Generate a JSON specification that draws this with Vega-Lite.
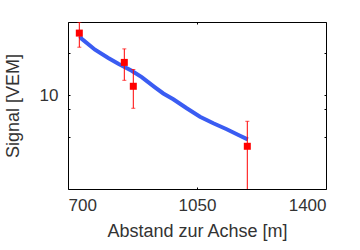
{
  "$schema": "https://vega.github.io/schema/vega-lite/v6.json",
  "width": 258,
  "height": 167,
  "autosize": "none",
  "padding": {"left": 68, "top": 22, "right": 34, "bottom": 61},
  "background": "white",
  "config": {
    "view": {"stroke": "black", "strokeWidth": 1},
    "axis": {
      "domain": false,
      "grid": false,
      "tickColor": "black",
      "tickWidth": 1,
      "labelFont": "Liberation Sans",
      "titleFont": "Liberation Sans",
      "labelFontSize": 17,
      "titleFontSize": 18,
      "labelColor": "#333",
      "titleColor": "#333",
      "titleFontWeight": "normal"
    }
  },
  "datasets": {
    "curve": [
      {"x": 732.6, "y": 26.4},
      {"x": 737.2, "y": 25.4},
      {"x": 773.3, "y": 21.2},
      {"x": 809.3, "y": 18.5},
      {"x": 836.5, "y": 16.8},
      {"x": 872.8, "y": 15.0},
      {"x": 900.0, "y": 13.5},
      {"x": 936.0, "y": 11.4},
      {"x": 958.6, "y": 10.3},
      {"x": 985.7, "y": 9.36},
      {"x": 1022.1, "y": 8.07},
      {"x": 1058.1, "y": 7.02},
      {"x": 1094.2, "y": 6.30},
      {"x": 1130.6, "y": 5.71},
      {"x": 1166.6, "y": 5.13},
      {"x": 1182.9, "y": 4.89},
      {"x": 1188.0, "y": 4.83}
    ],
    "meas": [
      {"x": 730.7, "y": 27.9, "lo": 22.1, "hi": 33.4},
      {"x": 852.8, "y": 17.2, "lo": 12.8, "hi": 21.5},
      {"x": 877.2, "y": 11.6, "lo": 8.07, "hi": 15.3},
      {"x": 1186.5, "y": 4.31, "lo": 2.1, "hi": 6.51}
    ]
  },
  "resolve": {"axis": {"x": "independent", "y": "independent"}},
  "layer": [
    {
      "data": {"name": "curve"},
      "mark": {"type": "line", "color": "#3a5cf2", "strokeWidth": 4, "clip": true},
      "encoding": {
        "x": {
          "field": "x", "type": "quantitative",
          "scale": {"domain": [700, 1400], "nice": false, "zero": false},
          "axis": {"orient": "bottom", "values": [700, 1050, 1400], "format": "d", "tickSize": -2, "labelPadding": 10, "title": "Abstand zur Achse [m]", "titlePadding": 9}
        },
        "y": {
          "field": "y", "type": "quantitative",
          "scale": {"type": "log", "domain": [2.13, 33.5], "nice": false},
          "axis": {"orient": "left", "values": [5, 8, 10, 20], "labelExpr": "datum.value == 10 ? '10' : ''", "tickSize": -2, "labelPadding": 12, "title": "Signal [VEM]", "titlePadding": 17}
        }
      }
    },
    {
      "data": {"name": "meas"},
      "mark": {"type": "rule", "color": "#ff0000", "strokeWidth": 1, "clip": true},
      "encoding": {
        "x": {"field": "x", "type": "quantitative", "axis": {"orient": "top", "values": [700, 1050, 1400], "tickSize": -2, "labels": false, "title": null}},
        "y": {"field": "lo", "type": "quantitative", "axis": {"orient": "right", "values": [5, 8, 10, 20], "tickSize": -2, "labels": false, "title": null}},
        "y2": {"field": "hi"}
      }
    },
    {
      "data": {"name": "meas"},
      "mark": {"type": "tick", "orient": "horizontal", "color": "#ff0000", "thickness": 1, "size": 4, "clip": true},
      "encoding": {
        "x": {"field": "x", "type": "quantitative", "axis": null},
        "y": {"field": "hi", "type": "quantitative", "axis": null}
      }
    },
    {
      "data": {"name": "meas"},
      "mark": {"type": "tick", "orient": "horizontal", "color": "#ff0000", "thickness": 1, "size": 4, "clip": true},
      "encoding": {
        "x": {"field": "x", "type": "quantitative", "axis": null},
        "y": {"field": "lo", "type": "quantitative", "axis": null}
      }
    },
    {
      "data": {"name": "meas"},
      "mark": {"type": "square", "color": "#ff0000", "filled": true, "opacity": 1, "size": 49, "clip": true},
      "encoding": {
        "x": {"field": "x", "type": "quantitative", "axis": null},
        "y": {"field": "y", "type": "quantitative", "axis": null}
      }
    }
  ]
}
